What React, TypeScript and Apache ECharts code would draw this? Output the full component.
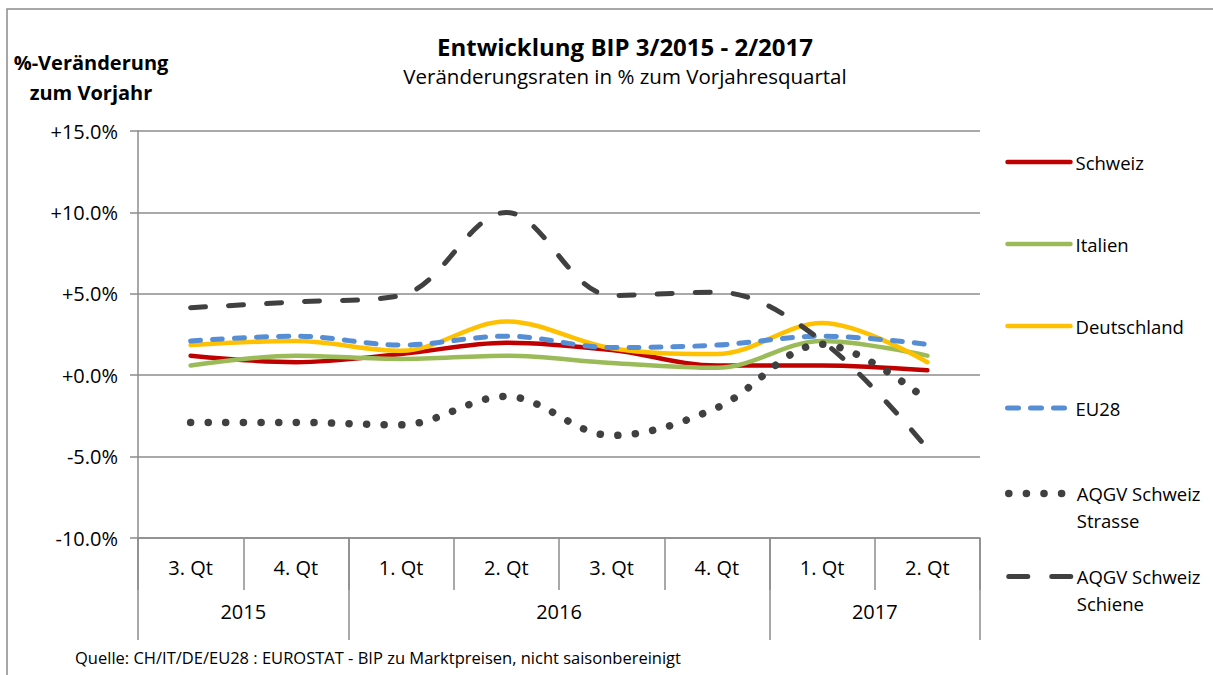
import React, { useEffect, useRef } from "react";
import * as echarts from "echarts";

const quarters = ["3. Qt", "4. Qt", "1. Qt", "2. Qt", "3. Qt", "4. Qt", "1. Qt", "2. Qt"];
const years = ["2015", "2016", "2017"];
const yearSpans = [2, 4, 2];

const schweiz = [1.2, 0.8, 1.3, 2.0, 1.55, 0.6, 0.6, 0.3];
const italien = [0.6, 1.2, 1.0, 1.2, 0.75, 0.45, 2.1, 1.2];
const deutschland = [1.85, 2.1, 1.5, 3.3, 1.65, 1.3, 3.2, 0.8];
const eu28 = [2.1, 2.4, 1.85, 2.4, 1.7, 1.85, 2.4, 1.9];
const aqgvStrasse = [-2.9, -2.9, -3.05, -1.3, -3.7, -2.0, 1.9, -1.55];
const aqgvSchiene = [4.15, 4.5, 4.9, 10.0, 4.9, 5.1, 2.1, -4.5];

const FONT = "'Open Sans', 'Noto Sans', sans-serif";
const GRID_COLOR = "#8c8c8c";

const STYLES: Record<string, { color: string; width: number; type: any }> = {
  Schweiz: { color: "#C00000", width: 4.5, type: "solid" },
  Italien: { color: "#9BBB59", width: 4.5, type: "solid" },
  Deutschland: { color: "#FFC000", width: 4.5, type: "solid" },
  EU28: { color: "#558ED5", width: 5, type: [10, 12] },
  "AQGV Schweiz Strasse": { color: "#404040", width: 7.5, type: [0.1, 17.5] },
  "AQGV Schweiz Schiene": { color: "#404040", width: 5, type: [15, 23] },
};

export default function App() {
  const ref = useRef<HTMLDivElement>(null);

  useEffect(() => {
    document.body.style.margin = "0";
    if (!ref.current) return;
    const chart = echarts.init(ref.current, undefined, { renderer: "svg" });

    const yearBounds: number[] = [0];
    const yearCenters: number[] = [];
    let acc = 0;
    yearSpans.forEach((s) => {
      yearCenters.push(acc + s / 2);
      acc += s;
      yearBounds.push(acc);
    });

    const fmtY = (v: number) => (v >= 0 ? "+" : "") + v.toFixed(1) + "%";

    const mk = (name: string, data: number[]) => {
      const s = STYLES[name];
      return {
        name,
        type: "line",
        data,
        smooth: 0.35,
        symbol: "none",
        showSymbol: false,
        lineStyle: { color: s.color, width: s.width, type: s.type, cap: "round" },
        itemStyle: { color: s.color },
      };
    };

    const legendItem = (name: string) => {
      const s = STYLES[name];
      let type = s.type;
      if (name === "AQGV Schweiz Schiene") type = [19, 24];
      if (name === "EU28") type = [11, 12];
      return {
        name,
        lineStyle: { color: s.color, width: s.width, type, cap: "round" },
      };
    };

    const twoLine = (name: string) => {
      if (name === "AQGV Schweiz Strasse") return " \nAQGV Schweiz\nStrasse";
      if (name === "AQGV Schweiz Schiene") return " \nAQGV Schweiz\nSchiene";
      return name;
    };

    const legendText = { fontSize: 18.5, color: "#000", lineHeight: 27, fontFamily: FONT };
    const hiddenSymbol = { color: "rgba(0,0,0,0)", borderWidth: 0, opacity: 0 };

    chart.setOption({
      animation: false,
      backgroundColor: "#ffffff",
      textStyle: { fontFamily: FONT },
      grid: { left: 138, right: 233, top: 131, bottom: 137, containLabel: false },
      legend: [
        {
          orient: "vertical",
          left: 1000,
          top: 143.5,
          itemWidth: 63,
          itemHeight: 14,
          itemGap: 55,
          data: ["Schweiz", "Italien", "Deutschland", "EU28"].map(legendItem),
          textStyle: legendText,
          itemStyle: hiddenSymbol,
        },
        {
          orient: "vertical",
          left: 1000,
          top: 448,
          itemWidth: 63,
          itemHeight: 14,
          itemGap: 2,
          data: ["AQGV Schweiz Strasse", "AQGV Schweiz Schiene"].map(legendItem),
          formatter: twoLine,
          textStyle: legendText,
          itemStyle: hiddenSymbol,
        },
      ],
      xAxis: [
        {
          type: "category",
          data: quarters,
          boundaryGap: true,
          position: "bottom",
          axisLine: { show: true, onZero: false, lineStyle: { color: GRID_COLOR, width: 1.5 } },
          axisTick: { show: true, interval: 0, length: 52, lineStyle: { color: GRID_COLOR, width: 1.5 } },
          axisLabel: { interval: 0, margin: 19, fontSize: 20, color: "#000", fontFamily: FONT },
          splitLine: { show: false },
        },
        {
          type: "value",
          min: 0,
          max: yearBounds[yearBounds.length - 1],
          position: "bottom",
          axisLine: { show: false, onZero: false },
          splitLine: { show: false },
          axisTick: {
            show: true,
            customValues: yearBounds,
            length: 102,
            lineStyle: { color: GRID_COLOR, width: 1.5 },
          },
          axisLabel: {
            customValues: yearCenters,
            margin: 63,
            fontSize: 20,
            color: "#000",
            fontFamily: FONT,
            formatter: (v: number) => {
              const i = yearCenters.findIndex((c) => Math.abs(c - v) < 1e-6);
              return i >= 0 ? years[i] : "";
            },
          },
        },
      ],
      yAxis: {
        type: "value",
        min: -10,
        max: 15,
        interval: 5,
        axisLine: { show: true, lineStyle: { color: GRID_COLOR, width: 1.5 } },
        axisTick: { show: true, length: 8, lineStyle: { color: GRID_COLOR, width: 1.5 } },
        axisLabel: { formatter: fmtY, margin: 20, fontSize: 20, color: "#000", fontFamily: FONT },
        splitLine: { show: true, lineStyle: { color: GRID_COLOR, width: 1.5 } },
      },
      series: [
        mk("Schweiz", schweiz),
        mk("Italien", italien),
        mk("Deutschland", deutschland),
        mk("EU28", eu28),
        mk("AQGV Schweiz Strasse", aqgvStrasse),
        mk("AQGV Schweiz Schiene", aqgvSchiene),
      ],
      graphic: [
        {
          type: "rect",
          shape: { x: 7, y: 9, width: 1240, height: 720 },
          style: { fill: "none", stroke: GRID_COLOR, lineWidth: 1.5 },
          silent: true,
          z: -1,
        },
        {
          type: "text",
          x: 625,
          y: 46,
          style: {
            text: "Entwicklung BIP 3/2015 - 2/2017",
            font: `bold 24px ${FONT}`,
            fill: "#000",
            textAlign: "center",
            textVerticalAlign: "middle",
          },
        },
        {
          type: "text",
          x: 625,
          y: 76,
          style: {
            text: "Veränderungsraten in % zum Vorjahresquartal",
            font: `20.5px ${FONT}`,
            fill: "#000",
            textAlign: "center",
            textVerticalAlign: "middle",
          },
        },
        {
          type: "text",
          x: 91,
          y: 62,
          style: {
            text: "%-Veränderung",
            font: `bold 20px ${FONT}`,
            fill: "#000",
            textAlign: "center",
            textVerticalAlign: "middle",
          },
        },
        {
          type: "text",
          x: 91,
          y: 92,
          style: {
            text: "zum Vorjahr",
            font: `bold 20px ${FONT}`,
            fill: "#000",
            textAlign: "center",
            textVerticalAlign: "middle",
          },
        },
        {
          type: "text",
          x: 75,
          y: 657,
          style: {
            text: "Quelle: CH/IT/DE/EU28 : EUROSTAT - BIP zu Marktpreisen, nicht saisonbereinigt",
            font: `16.5px ${FONT}`,
            fill: "#000",
            textAlign: "left",
            textVerticalAlign: "middle",
          },
        },
      ],
    });

    return () => chart.dispose();
  }, []);

  return <div ref={ref} style={{ width: 1213, height: 675 }} />;
}
